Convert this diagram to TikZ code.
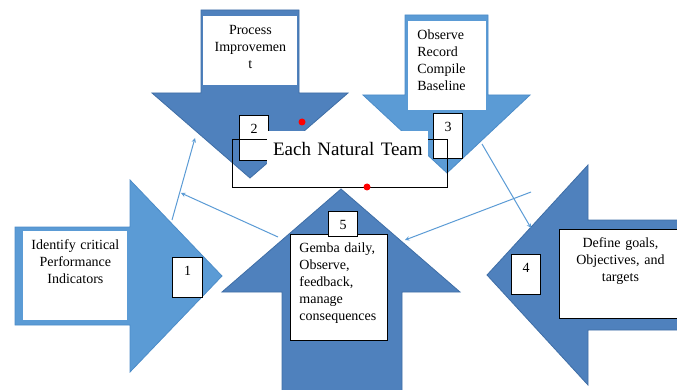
\documentclass[tikz,border=0pt]{standalone}
\usepackage{fontspec}
\setmainfont{Liberation Serif}
\usetikzlibrary{positioning}
\definecolor{darkfill}{HTML}{4F81BD}
\definecolor{darkline}{HTML}{3F6EA6}
\definecolor{lightfill}{HTML}{5B9BD5}
\definecolor{lightline}{HTML}{4C8CC8}
\definecolor{linkblue}{HTML}{5B9BD5}
\begin{document}
\begin{tikzpicture}[x=1pt, y=-1pt, line width=0.8pt, font=\fontsize{14}{17}\selectfont,
  darkarrow/.style={fill=darkfill, draw=darkline},
  lightarrow/.style={fill=lightfill, draw=lightline},
  textbox/.style={fill=white, anchor=north west, inner xsep=6pt, inner ysep=0pt, text height=18pt},
  numbox/.style={fill=white, draw=black, line width=1pt, anchor=north west, inner xsep=0pt, inner ysep=2pt, text width=29pt, align=center, text height=16pt},
  link/.style={->, >=stealth, draw=linkblue, line width=1pt}]
  \useasboundingbox (0,0) rectangle (677,390);
  % the five block arrows
  \draw[darkarrow] (201,10) -- (299,10) -- (299,93) -- (348,93) -- (250,178) -- (152,93) -- (201,93) -- cycle;
  \draw[lightarrow] (405,15) -- (488,15) -- (488,95) -- (530,95) -- (447,173) -- (363,95) -- (405,95) -- cycle;
  \draw[lightarrow] (15,227) -- (130,227) -- (130,180) -- (222,276) -- (130,372) -- (130,325) -- (15,325) -- cycle;
  \draw[darkarrow] (282,392) -- (282,292) -- (222,292) -- (341,189) -- (460,292) -- (402,292) -- (402,392);
  \draw[darkarrow] (680,220) -- (588,220) -- (588,165) -- (487,275) -- (588,385) -- (588,330) -- (680,330);
  % thin links
  \coordinate (l1a) at (172,220); \coordinate (l1b) at (195,138);
  \coordinate (l2a) at (278,237); \coordinate (l2b) at (181,193);
  \coordinate (l3a) at (482,144); \coordinate (l3b) at (531,228);
  \coordinate (l4a) at (531,192); \coordinate (l4b) at (405,240);
  \draw[link] (l1a) -- (l1b);
  \draw[link] (l2a) -- (l2b);
  \draw[link] (l3a) -- (l3b);
  \draw[link] (l4a) -- (l4b);
  % texts in the arrows
  \node[textbox, text width=82pt, text depth=51pt, align=center] (improve) at (203,16) {Process\\Improvemen\\t};
  \node[textbox, inner xsep=9pt, text width=60pt, text depth=71pt, align=left] (observe) at (408,21) {Observe\\Record\\Compile\\Baseline};
  \node[textbox, text width=92pt, text depth=71pt, align=center] (identify) at (23,231) {Identify critical\\Performance\\Indicators};
  \node[textbox, draw=black, inner xsep=9pt, text width=79pt, text depth=88pt, align=left] (gemba) at (290,234) {Gemba daily,\\Observe,\\feedback,\\manage\\consequences};
  \node[textbox, draw=black, text width=110pt, text depth=71pt, align=center] (define) at (559,229) {Define goals,\\Objectives, and\\targets};
  % numbered boxes
  \node[numbox, text depth=25pt] (num2) at (239,115) {2};
  \node[numbox, text depth=25pt] (num3) at (433,113) {3};
  \node[numbox, text width=30pt, text depth=20pt] (num1) at (172,257) {1};
  \node[numbox, text depth=20pt] (num4) at (511,254) {4};
  \node[numbox, text depth=5pt] (num5) at (328,211) {5};
  % the team box
  \node[draw=black, line width=1pt, anchor=north west, inner sep=0pt, minimum width=215pt, minimum height=48pt] (team) at (232,139) {};
  \node[fill=white, anchor=north west, inner sep=0pt, text width=161pt, align=center, text height=24pt, text depth=10pt, font=\fontsize{19}{22}\selectfont] (teamlabel) at (267,131) {Each Natural Team};
  \fill[red] (302,122) circle (3.5pt);
  \fill[red] (367,187) circle (3.5pt);
\end{tikzpicture}
\end{document}
